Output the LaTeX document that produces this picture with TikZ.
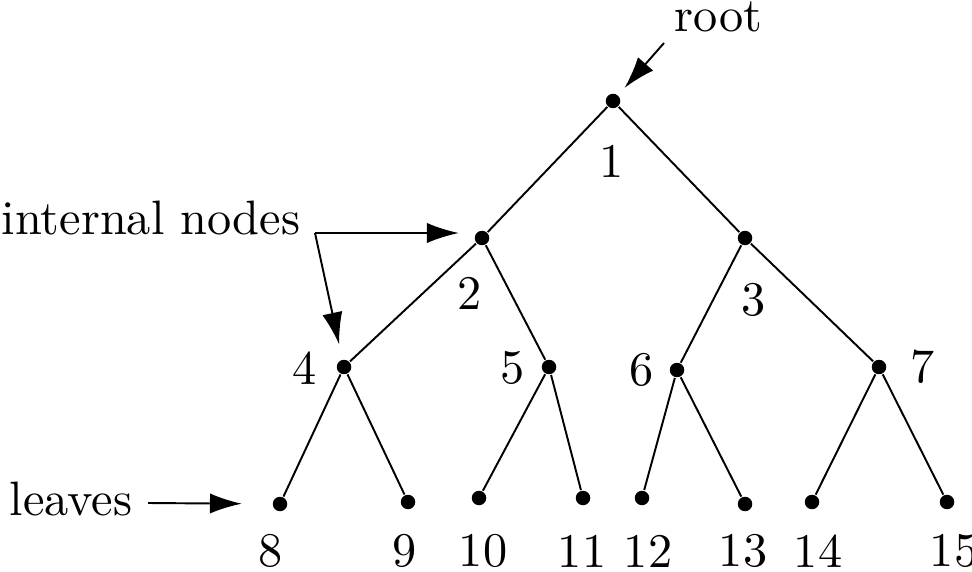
\documentclass[tikz,border=0pt]{standalone}
\usepackage{tikz}
\usetikzlibrary{arrows.meta,positioning}

\begin{document}
\begin{tikzpicture}[%
	x=0.207pt, y=-0.207pt,
	dot/.style = {shape=circle, fill=black, inner sep=0pt, minimum size=3pt},
	num/.style = {inner sep=0pt},
	tag/.style = {inner sep=0pt, anchor=base west},
	pointer/.style = {-{Latex[length=6.6pt,width=4.2pt]}}
	]
  \useasboundingbox (0,0) rectangle (972,572);
  % tree nodes
  \node [dot] (n1) at (613,101) {};
  \node [dot] (n2) at (482,238) {};
  \node [dot] (n3) at (745,238) {};
  \node [dot] (n4) at (344,367) {};
  \node [dot] (n5) at (549,367) {};
  \node [dot] (n6) at (677,370) {};
  \node [dot] (n7) at (879,367) {};
  \node [dot] (n8) at (280,504) {};
  \node [dot] (n9) at (408,502) {};
  \node [dot] (n10) at (479,498) {};
  \node [dot] (n11) at (583,498) {};
  \node [dot] (n12) at (642,498) {};
  \node [dot] (n13) at (745,504) {};
  \node [dot] (n14) at (812,502) {};
  \node [dot] (n15) at (947,502) {};
  \draw (n1) -- (n2) (n1) -- (n3);
  \draw (n2) -- (n4) (n2) -- (n5) (n3) -- (n6) (n3) -- (n7);
  \draw (n4) -- (n8) (n4) -- (n9) (n5) -- (n10) (n5) -- (n11);
  \draw (n6) -- (n12) (n6) -- (n13) (n7) -- (n14) (n7) -- (n15);
  % numbers
  \node [num] (l1) at (612,161) {1};
  \node [num] (l2) at (470,293) {2};
  \node [num] (l3) at (754,300) {3};
  \node [num] (l4) at (305,368) {4};
  \node [num] (l5) at (513,368) {5};
  \node [num] (l6) at (642,370) {6};
  \node [num] (l7) at (923,367) {7};
  \node [num] (l8) at (271,551) {8};
  \node [num] (l9) at (405,551) {9};
  \node [num] (l10) at (483,551) {10};
  \node [num] (l11) at (582,551) {11};
  \node [num] (l12) at (648,551) {12};
  \node [num] (l13) at (743,551) {13};
  \node [num] (l14) at (818,551) {14};
  \node [num] (l15) at (954,551) {15};
  % names
  \node [tag] (root) at (674,32) {root};
  \node [tag] (internal) at (1,235) {internal nodes};
  \node [tag] (leaves) at (9,515) {leaves};
  \coordinate (rootfrom) at (664,43);
  \coordinate (internalfrom) at (315,233);
  \coordinate (leavesfrom) at (148,503);
  \draw [pointer, shorten >=1.9pt] (rootfrom) -- (n1);
  \draw [pointer, shorten >=3.1pt] (internalfrom) -- (internalfrom -| n2.west);
  \draw [pointer, shorten >=3.1pt] (internalfrom) -- (n4);
  \draw [pointer, shorten >=6.2pt] (leavesfrom) -- (n8);
\end{tikzpicture}
\end{document}
